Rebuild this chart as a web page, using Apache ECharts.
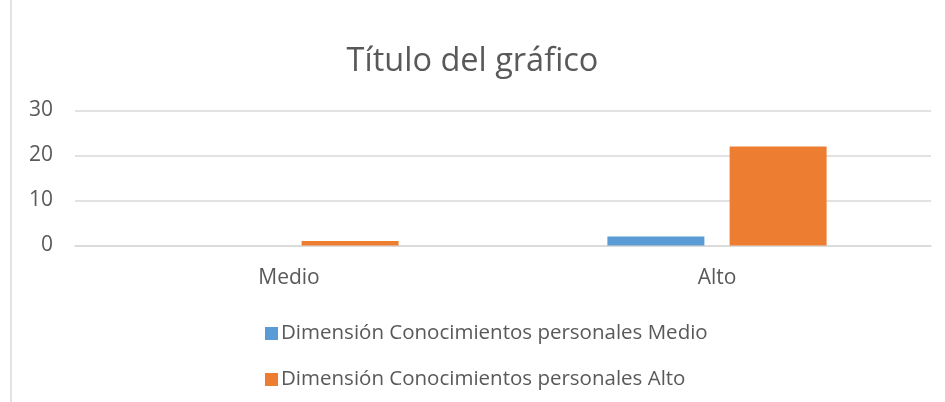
<!DOCTYPE html>
<html>
<head>
<meta charset="utf-8">
<script src="https://cdn.jsdelivr.net/npm/echarts@6/dist/echarts.min.js"></script>
<style>
  html, body { margin: 0; padding: 0; background: #fff; }
  #chart { width: 945px; height: 402px; }
</style>
</head>
<body>
<div id="chart"></div>
<script>
// datos del gráfico
var categorias = ['Medio', 'Alto'];
var serieMedio = [0, 2];
var serieAlto = [1, 22];
var nombres = ['Dimensión Conocimientos personales Medio', 'Dimensión Conocimientos personales Alto'];

var chart = echarts.init(document.getElementById('chart'));
var fuente = 'Open Sans';
var gris = '#595959';

var option = {
  animation: false,
  backgroundColor: '#fff',
  textStyle: { fontFamily: fuente },
  title: {
    text: 'Título del gráfico',
    left: 'center',
    top: 40,
    textStyle: { fontFamily: fuente, fontSize: 32.5, fontWeight: 'normal', color: gris }
  },
  graphic: [{
    type: 'line',
    shape: { x1: 11, y1: 0, x2: 11, y2: 402 },
    style: { stroke: '#d9d9d9', lineWidth: 1.5 }
  }],
  legend: {
    orient: 'vertical',
    left: 260,
    top: 318,
    itemGap: 25,
    itemWidth: 13,
    itemHeight: 13,
    icon: 'rect',
    textStyle: { fontFamily: fuente, fontSize: 20.5, color: gris, padding: [0, 0, 0, -2] },
    data: nombres
  },
  grid: { left: 75, right: 14, top: 110.5, height: 135, containLabel: false },
  xAxis: {
    type: 'category',
    data: categorias,
    axisLine: { show: true, lineStyle: { color: '#d9d9d9', width: 1.5 } },
    axisTick: { show: false },
    axisLabel: { fontFamily: fuente, fontSize: 21, color: gris, margin: 22 }
  },
  yAxis: {
    type: 'value',
    min: 0,
    max: 30,
    interval: 10,
    axisLine: { show: false },
    axisTick: { show: false },
    splitLine: { lineStyle: { color: '#d9d9d9', width: 1.5 } },
    axisLabel: { fontFamily: fuente, fontSize: 21, color: gris, margin: 22 }
  },
  series: [
    {
      name: nombres[0],
      type: 'bar',
      data: serieMedio,
      barWidth: 97,
      barGap: '26%',
      itemStyle: { color: '#5b9bd5' }
    },
    {
      name: nombres[1],
      type: 'bar',
      data: serieAlto,
      barWidth: 97,
      barGap: '26%',
      itemStyle: { color: '#ed7d31' }
    }
  ]
};

chart.setOption(option);
</script>
</body>
</html>
